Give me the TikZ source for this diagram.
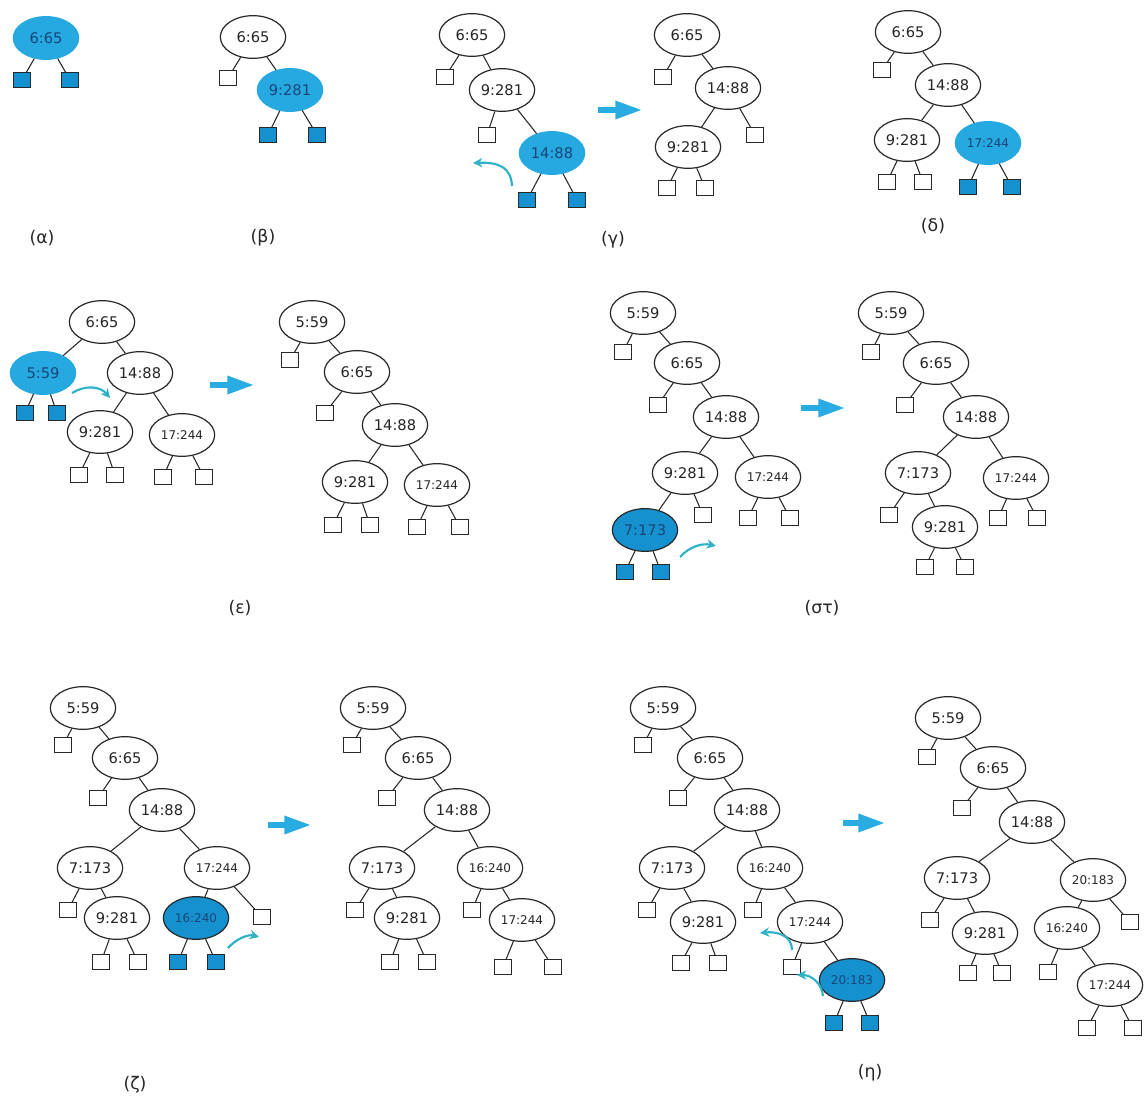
\documentclass[tikz,border=0pt]{standalone}
\usepackage{fontspec}
\setmainfont{DejaVu Sans}
\usetikzlibrary{shapes.geometric,arrows.meta}
\definecolor{bfill}{RGB}{38,168,224}
\definecolor{bfilld}{RGB}{22,145,208}
\definecolor{btext}{RGB}{25,70,120}
\definecolor{barrow}{RGB}{40,172,226}
\definecolor{carrow}{RGB}{45,178,200}
\definecolor{lk}{RGB}{40,40,40}
\tikzset{
 nd/.style={ellipse,draw=lk,line width=0.9pt,minimum width=49pt,minimum height=32pt,inner sep=0pt,fill=white,font=\fontsize{11}{12}\selectfont,text=black!85},
 nds/.style={nd,font=\fontsize{9}{10}\selectfont},
 bnd/.style={nd,fill=bfill,draw=bfill,text=btext},
 bnds/.style={bnd,font=\fontsize{9}{10}\selectfont},
 bndo/.style={nd,fill=bfilld,draw=lk,text=btext},
 bndos/.style={bndo,font=\fontsize{9}{10}\selectfont},
 lf/.style={rectangle,draw=lk,line width=0.9pt,minimum width=13pt,minimum height=11pt,inner sep=0pt,fill=white},
 blf/.style={lf,fill=bfilld},
 edge/.style={draw=lk,line width=0.8pt},
 bigarrow/.style={draw=barrow,line width=4pt,-{Triangle[length=20pt,width=13pt]}},
 curarrow/.style={draw=carrow,line width=1.6pt,-{Stealth[length=7pt,width=7pt]}},
 caplabel/.style={font=\fontsize{13}{15}\selectfont,text=black!85}
}
\begin{document}
\begin{tikzpicture}[x=0.75pt,y=-0.75pt]
\fill[white] (0,0) rectangle (1147,1102);
\useasboundingbox (0,0) rectangle (1147,1102);

% ---------- (alpha)
\node[bnd] (a1) at (46,38) {6:65};
\node[blf] (al) at (22,80) {};
\node[blf] (ar) at (70,80) {};
\foreach \p/\c in {a1/al,a1/ar} \draw[edge] (\p) -- (\c);
\node[caplabel] (ca) at (42,238) {(α)};

% ---------- (beta)
\node[nd] (b1) at (253,37) {6:65};
\node[lf] (bl) at (228,78) {};
\node[bnd] (b2) at (290,90) {9:281};
\node[blf] (b2l) at (268,135) {};
\node[blf] (b2r) at (317,135) {};
\foreach \p/\c in {b1/bl,b1/b2,b2/b2l,b2/b2r} \draw[edge] (\p) -- (\c);
\node[caplabel] (cb) at (263,238) {(β)};

% ---------- (gamma) left
\node[nd] (c1) at (472,35) {6:65};
\node[lf] (c1l) at (445,77) {};
\node[nd] (c2) at (502,90) {9:281};
\node[lf] (c2l) at (487,135) {};
\node[bnd] (c3) at (552,153) {14:88};
\node[blf] (c3l) at (527,200) {};
\node[blf] (c3r) at (577,200) {};
\foreach \p/\c in {c1/c1l,c1/c2,c2/c2l,c2/c3,c3/c3l,c3/c3r} \draw[edge] (\p) -- (\c);
\coordinate (cgs) at (512,186);
\coordinate (cge) at (473,163);
\draw[curarrow] (cgs) .. controls (511,168) and (500,162) .. (cge);
\coordinate (gA) at (598,110);
\coordinate (gB) at (642,110);
\draw[bigarrow] (gA) -- (gB);
% (gamma) right
\node[nd] (d1) at (687,35) {6:65};
\node[lf] (d1l) at (663,77) {};
\node[nd] (d2) at (728,88) {14:88};
\node[lf] (d2r) at (755,135) {};
\node[nd] (d3) at (688,147) {9:281};
\node[lf] (d3l) at (667,188) {};
\node[lf] (d3r) at (705,188) {};
\foreach \p/\c in {d1/d1l,d1/d2,d2/d2r,d2/d3,d3/d3l,d3/d3r} \draw[edge] (\p) -- (\c);
\node[caplabel] (cg) at (613,240) {(γ)};

% ---------- (delta)
\node[nd] (e1) at (908,32) {6:65};
\node[lf] (e1l) at (882,70) {};
\node[nd] (e2) at (948,85) {14:88};
\node[nd] (e3) at (907,140) {9:281};
\node[bnds] (e4) at (988,143) {17:244};
\node[lf] (e3l) at (887,182) {};
\node[lf] (e3r) at (923,182) {};
\node[blf] (e4l) at (968,187) {};
\node[blf] (e4r) at (1012,187) {};
\foreach \p/\c in {e1/e1l,e1/e2,e2/e3,e2/e4,e3/e3l,e3/e3r,e4/e4l,e4/e4r} \draw[edge] (\p) -- (\c);
\node[caplabel] (cd) at (933,226) {(δ)};

% ---------- (epsilon) left
\node[nd] (f1) at (102,322) {6:65};
\node[nd] (f3) at (140,373) {14:88};
\node[nd] (f4) at (100,432) {9:281};
\node[nds] (f5) at (182,435) {17:244};
\node[lf] (f4l) at (79,475) {};
\node[lf] (f4r) at (115,475) {};
\node[lf] (f5l) at (163,477) {};
\node[lf] (f5r) at (204,477) {};
\foreach \p/\c in {f1/f3,f3/f4,f3/f5,f4/f4l,f4/f4r,f5/f5l,f5/f5r} \draw[edge] (\p) -- (\c);
\node[blf] (f2l) at (25,413) {};
\node[blf] (f2r) at (57,413) {};
\node[bnd] (f2) at (43,373) {5:59};
\foreach \p/\c in {f1/f2,f2/f2l,f2/f2r} \draw[edge] (\p) -- (\c);
\coordinate (eps) at (72,393);
\coordinate (epe) at (110,398);
\draw[curarrow] (eps) .. controls (85,385) and (100,386) .. (epe);
\coordinate (eA) at (210,385);
\coordinate (eB) at (254,385);
\draw[bigarrow] (eA) -- (eB);
% (epsilon) right
\node[nd] (g1) at (312,322) {5:59};
\node[lf] (g1l) at (290,360) {};
\node[nd] (g2) at (357,372) {6:65};
\node[lf] (g2l) at (325,413) {};
\node[nd] (g3) at (395,425) {14:88};
\node[nd] (g4) at (355,482) {9:281};
\node[nds] (g5) at (437,485) {17:244};
\node[lf] (g4l) at (333,525) {};
\node[lf] (g4r) at (370,525) {};
\node[lf] (g5l) at (417,527) {};
\node[lf] (g5r) at (460,527) {};
\foreach \p/\c in {g1/g1l,g1/g2,g2/g2l,g2/g3,g3/g4,g3/g5,g4/g4l,g4/g4r,g5/g5l,g5/g5r} \draw[edge] (\p) -- (\c);
\node[caplabel] (ce) at (240,608) {(ε)};

% ---------- (sigma tau) left
\node[nd] (h1) at (643,313) {5:59};
\node[lf] (h1l) at (623,352) {};
\node[nd] (h2) at (687,363) {6:65};
\node[lf] (h2l) at (658,405) {};
\node[nd] (h3) at (726,417) {14:88};
\node[nd] (h4) at (685,473) {9:281};
\node[nds] (h5) at (768,477) {17:244};
\node[lf] (h4r) at (703,515) {};
\node[lf] (h5l) at (748,518) {};
\node[lf] (h5r) at (790,518) {};
\node[bndo] (h6) at (645,530) {7:173};
\node[blf] (h6l) at (625,572) {};
\node[blf] (h6r) at (661,572) {};
\foreach \p/\c in {h1/h1l,h1/h2,h2/h2l,h2/h3,h3/h4,h3/h5,h4/h4r,h4/h6,h5/h5l,h5/h5r,h6/h6l,h6/h6r} \draw[edge] (\p) -- (\c);
\coordinate (sts) at (680,557);
\coordinate (ste) at (716,546);
\draw[curarrow] (sts) .. controls (690,546) and (703,543) .. (ste);
\coordinate (sA) at (801,408);
\coordinate (sB) at (845,408);
\draw[bigarrow] (sA) -- (sB);
% (sigma tau) right
\node[nd] (i1) at (891,313) {5:59};
\node[lf] (i1l) at (871,352) {};
\node[nd] (i2) at (936,363) {6:65};
\node[lf] (i2l) at (905,405) {};
\node[nd] (i3) at (976,417) {14:88};
\node[nd] (i4) at (918,473) {7:173};
\node[nds] (i5) at (1016,478) {17:244};
\node[lf] (i4l) at (889,515) {};
\node[nd] (i6) at (945,527) {9:281};
\node[lf] (i6l) at (925,567) {};
\node[lf] (i6r) at (965,567) {};
\node[lf] (i5l) at (998,518) {};
\node[lf] (i5r) at (1037,518) {};
\foreach \p/\c in {i1/i1l,i1/i2,i2/i2l,i2/i3,i3/i4,i3/i5,i4/i4l,i4/i6,i6/i6l,i6/i6r,i5/i5l,i5/i5r} \draw[edge] (\p) -- (\c);
\node[caplabel] (cs) at (822,608) {(στ)};

% ---------- (zeta) left
\node[nd] (j1) at (83,708) {5:59};
\node[lf] (j1l) at (63,745) {};
\node[nd] (j2) at (125,758) {6:65};
\node[lf] (j2l) at (98,798) {};
\node[nd] (j3) at (162,810) {14:88};
\node[nd] (j4) at (90,868) {7:173};
\node[nds] (j5) at (217,868) {17:244};
\node[lf] (j4l) at (68,910) {};
\node[nd] (j6) at (117,918) {9:281};
\node[lf] (j6l) at (101,962) {};
\node[lf] (j6r) at (138,962) {};
\node[bndos] (j7) at (196,918) {16:240};
\node[blf] (j7l) at (178,962) {};
\node[blf] (j7r) at (216,962) {};
\node[lf] (j5r) at (262,917) {};
\foreach \p/\c in {j1/j1l,j1/j2,j2/j2l,j2/j3,j3/j4,j3/j5,j4/j4l,j4/j6,j6/j6l,j6/j6r,j5/j7,j5/j5r,j7/j7l,j7/j7r} \draw[edge] (\p) -- (\c);
\coordinate (zs) at (228,948);
\coordinate (ze) at (259,937);
\draw[curarrow] (zs) .. controls (236,939) and (248,934) .. (ze);
\coordinate (zA) at (268,825);
\coordinate (zB) at (311,825);
\draw[bigarrow] (zA) -- (zB);
% (zeta) right
\node[nd] (k1) at (373,708) {5:59};
\node[lf] (k1l) at (352,745) {};
\node[nd] (k2) at (418,758) {6:65};
\node[lf] (k2l) at (387,798) {};
\node[nd] (k3) at (457,810) {14:88};
\node[nd] (k4) at (382,868) {7:173};
\node[nds] (k5) at (490,868) {16:240};
\node[lf] (k4l) at (355,910) {};
\node[nd] (k6) at (407,918) {9:281};
\node[lf] (k6l) at (390,962) {};
\node[lf] (k6r) at (427,962) {};
\node[lf] (k5l) at (472,910) {};
\node[nds] (k7) at (522,920) {17:244};
\node[lf] (k7l) at (503,967) {};
\node[lf] (k7r) at (553,967) {};
\foreach \p/\c in {k1/k1l,k1/k2,k2/k2l,k2/k3,k3/k4,k3/k5,k4/k4l,k4/k6,k6/k6l,k6/k6r,k5/k5l,k5/k7,k7/k7l,k7/k7r} \draw[edge] (\p) -- (\c);
\node[caplabel] (cz) at (135,1085) {(ζ)};

% ---------- (eta) left
\node[nd] (l1) at (663,708) {5:59};
\node[lf] (l1l) at (643,745) {};
\node[nd] (l2) at (710,758) {6:65};
\node[lf] (l2l) at (678,798) {};
\node[nd] (l3) at (747,810) {14:88};
\node[nd] (l4) at (672,868) {7:173};
\node[nds] (l5) at (770,868) {16:240};
\node[lf] (l4l) at (647,910) {};
\node[nd] (l6) at (703,922) {9:281};
\node[lf] (l6l) at (681,963) {};
\node[lf] (l6r) at (718,963) {};
\node[lf] (l5l) at (753,910) {};
\node[nds] (l7) at (810,922) {17:244};
\node[lf] (l7l) at (792,967) {};
\node[bndos] (l8) at (852,980) {20:183};
\node[blf] (l8l) at (834,1023) {};
\node[blf] (l8r) at (870,1023) {};
\foreach \p/\c in {l1/l1l,l1/l2,l2/l2l,l2/l3,l3/l4,l3/l5,l4/l4l,l4/l6,l6/l6l,l6/l6r,l5/l5l,l5/l7,l7/l7l,l7/l8,l8/l8l,l8/l8r} \draw[edge] (\p) -- (\c);
\coordinate (hs1) at (792,950);
\coordinate (he1) at (760,933);
\draw[curarrow] (hs1) .. controls (792,938) and (781,931) .. (he1);
\coordinate (hs2) at (823,996);
\coordinate (he2) at (797,975);
\draw[curarrow] (hs2) .. controls (822,984) and (812,975) .. (he2);
\coordinate (hA) at (843,823);
\coordinate (hB) at (885,823);
\draw[bigarrow] (hA) -- (hB);
% (eta) right
\node[nd] (m1) at (948,718) {5:59};
\node[lf] (m1l) at (927,757) {};
\node[nd] (m2) at (993,768) {6:65};
\node[lf] (m2l) at (962,808) {};
\node[nd] (m3) at (1032,822) {14:88};
\node[nd] (m4) at (957,878) {7:173};
\node[nds] (m5) at (1093,880) {20:183};
\node[lf] (m4l) at (930,920) {};
\node[nd] (m6) at (985,933) {9:281};
\node[lf] (m6l) at (968,973) {};
\node[lf] (m6r) at (1002,973) {};
\node[nds] (m7) at (1067,928) {16:240};
\node[lf] (m7l) at (1048,972) {};
\node[lf] (m5r) at (1130,922) {};
\node[nds] (m8) at (1110,985) {17:244};
\node[lf] (m8l) at (1087,1028) {};
\node[lf] (m8r) at (1133,1028) {};
\foreach \p/\c in {m1/m1l,m1/m2,m2/m2l,m2/m3,m3/m4,m3/m5,m4/m4l,m4/m6,m6/m6l,m6/m6r,m5/m7,m5/m5r,m7/m7l,m7/m8,m8/m8l,m8/m8r} \draw[edge] (\p) -- (\c);
\node[caplabel] (ch) at (870,1073) {(η)};
\end{tikzpicture}
\end{document}
